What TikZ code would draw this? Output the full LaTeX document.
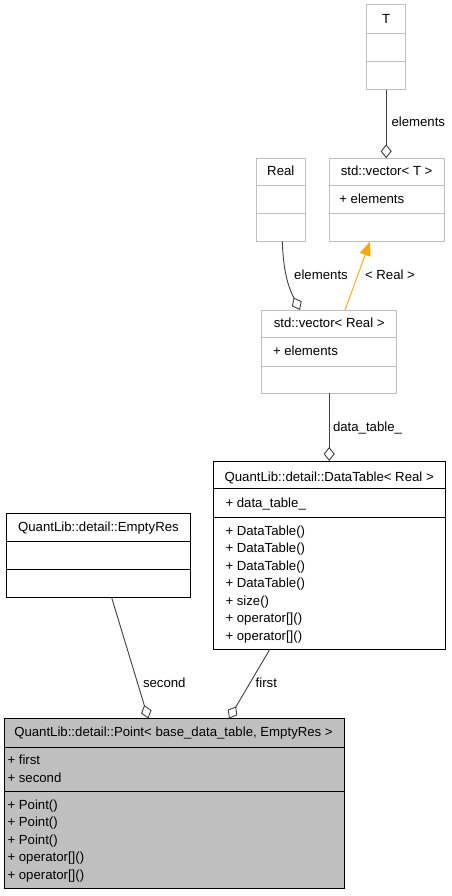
\documentclass[tikz,border=0pt]{standalone}
\usepackage{fontspec}
\setmainfont{Liberation Sans}
\usetikzlibrary{arrows.meta,calc}

\definecolor{boxgray}{HTML}{BFBFBF}
\definecolor{edgegray}{HTML}{404040}
\definecolor{tmplorange}{HTML}{FFA500}

\begin{document}
\begin{tikzpicture}[x=1pt,y=-1pt,
  every node/.style={font=\fontsize{13.2}{15}\selectfont, inner sep=0pt, outer sep=0pt},
  classbox/.style={anchor=north west, line width=1pt, inner sep=0pt, outer sep=0pt},
  extclass/.style={classbox, draw=boxgray},
  docclass/.style={classbox, draw=black, fill=white},
  focusclass/.style={classbox, draw=black, fill=boxgray},
  extsep/.style={draw=boxgray, line width=1pt},
  docsep/.style={draw=black, line width=1pt},
  titletext/.style={anchor=base},
  rowtext/.style={anchor=base west},
  elabel/.style={anchor=base west},
  clabel/.style={anchor=base},
  assoc/.style={draw=edgegray, line width=0.9pt, -{Diamond[open, length=14pt, width=11pt]}},
  tmpl/.style={draw=tmplorange, line width=0.9pt, -{Triangle[length=14pt, width=11pt, fill=tmplorange]}},
]
\useasboundingbox (0,0) rectangle (451,896);

% ---------- T ----------
\node[extclass, minimum width=39pt, minimum height=85pt] (t) at (366.7,5) {};
\draw[extsep] ($(t.north west)+(0,28.3)$) -- ($(t.north east)+(0,28.3)$);
\draw[extsep] ($(t.north west)+(0,56.7)$) -- ($(t.north east)+(0,56.7)$);
\node[titletext] (t-title) at (386.2,23.5) {T};

% ---------- Real ----------
\node[extclass, minimum width=48.3pt, minimum height=83.4pt] (r) at (256.7,158.3) {};
\draw[extsep] ($(r.north west)+(0,27)$) -- ($(r.north east)+(0,27)$);
\draw[extsep] ($(r.north west)+(0,55)$) -- ($(r.north east)+(0,55)$);
\node[titletext] (r-title) at (280.8,175.3) {Real};

% ---------- std::vector< T > ----------
\node[extclass, minimum width=115.3pt, minimum height=83.4pt] (vt) at (329,158.3) {};
\draw[extsep] ($(vt.north west)+(0,27)$) -- ($(vt.north east)+(0,27)$);
\draw[extsep] ($(vt.north west)+(0,55)$) -- ($(vt.north east)+(0,55)$);
\node[titletext] (vt-title) at (386.6,175.3) {std::vector< T >};
\node[rowtext] (vt-a1) at (339.3,203.5) {+ elements};

% ---------- std::vector< Real > ----------
\node[extclass, minimum width=135pt, minimum height=83.3pt] (vr) at (261.7,310) {};
\draw[extsep] ($(vr.north west)+(0,27.7)$) -- ($(vr.north east)+(0,27.7)$);
\draw[extsep] ($(vr.north west)+(0,56)$) -- ($(vr.north east)+(0,56)$);
\node[titletext] (vr-title) at (329.2,327.8) {std::vector< Real >};
\node[rowtext] (vr-a1) at (273,355.2) {+ elements};

% ---------- QuantLib::detail::DataTable< Real > ----------
\node[docclass, minimum width=231.7pt, minimum height=188pt] (dt) at (213.3,461) {};
\draw[docsep] ($(dt.north west)+(0,27.3)$) -- ($(dt.north east)+(0,27.3)$);
\draw[docsep] ($(dt.north west)+(0,56.7)$) -- ($(dt.north east)+(0,56.7)$);
\node[titletext] (dt-title) at (329.2,481.2) {QuantLib::detail::DataTable< Real >};
\node[rowtext] (dt-a1) at (225.5,507.5) {+ data\_table\_};
\foreach \txt [count=\i from 0] in {DataTable(),DataTable(),DataTable(),DataTable(),size(),operator[](),operator[]()}
  \node[rowtext] (dt-m\i) at (225.5,535.25+17.5*\i) {+ \txt};

% ---------- QuantLib::detail::EmptyRes ----------
\node[docclass, minimum width=183.3pt, minimum height=84.4pt] (er) at (6.7,513.3) {};
\draw[docsep] ($(er.north west)+(0,28.4)$) -- ($(er.north east)+(0,28.4)$);
\draw[docsep] ($(er.north west)+(0,56)$) -- ($(er.north east)+(0,56)$);
\node[titletext] (er-title) at (98.4,531.2) {QuantLib::detail::EmptyRes};

% ---------- QuantLib::detail::Point< base_data_table, EmptyRes > ----------
\node[focusclass, minimum width=340.5pt, minimum height=169.8pt] (pt) at (4,718.5) {};
\draw[docsep] ($(pt.north west)+(0,28.5)$) -- ($(pt.north east)+(0,28.5)$);
\draw[docsep] ($(pt.north west)+(0,73)$) -- ($(pt.north east)+(0,73)$);
\node[titletext] (pt-title) at (173.5,736.5) {QuantLib::detail::Point< base\_data\_table, EmptyRes >};
\node[rowtext] (pt-a1) at (7.5,764.75) {+ first};
\node[rowtext] (pt-a2) at (7.5,782.25) {+ second};
\foreach \txt [count=\i from 0] in {Point(),Point(),Point(),operator[](),operator[]()}
  \node[rowtext] (pt-m\i) at (7.5,809.25+17.5*\i) {+ \txt};

% ---------- connectors ----------
\coordinate (vt-in) at (t.south |- vt.north);
\draw[assoc] (t.south) -- (vt-in);
\node[elabel] (l-vt) at (391.5,126.2) {elements};

\coordinate (r-out) at ($(r.south west)+(25.6,0)$);
\coordinate (vr-inr) at ($(vr.north west)+(38.3,0)$);
\draw[assoc] (r-out) to[out=-88, in=117] (vr-inr);
\node[clabel] (l-vr) at (321,279.5) {elements};

\coordinate (vr-outt) at ($(vr.north west)+(83.3,0)$);
\coordinate (vt-inr) at ($(vt.south west)+(41,0)$);
\draw[tmpl] (vr-outt) -- (vt-inr);
\node[clabel] (l-tmpl) at (390,279.5) {< Real >};

\coordinate (dt-in) at (vr.south |- dt.north);
\draw[assoc] (vr.south) -- (dt-in);
\node[elabel] (l-dt) at (333,431) {data\_table\_};

\coordinate (er-out) at ($(er.south west)+(105,0)$);
\coordinate (pt-in2) at ($(pt.north west)+(144.3,0)$);
\draw[assoc] (er-out) -- (pt-in2);
\node[elabel] (l-second) at (143,687) {second};

\coordinate (dt-out) at ($(dt.south west)+(56.7,0)$);
\coordinate (pt-in1) at ($(pt.north west)+(225,0)$);
\draw[assoc] (dt-out) -- (pt-in1);
\node[elabel] (l-first) at (255.7,687) {first};
\end{tikzpicture}
\end{document}
